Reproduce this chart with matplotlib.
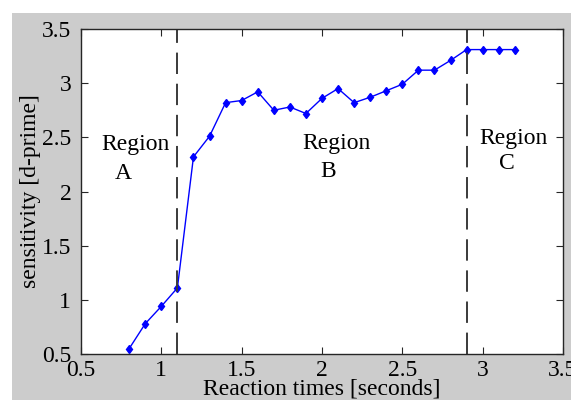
import matplotlib
matplotlib.use("Agg")
import matplotlib.pyplot as plt
from matplotlib.patches import Rectangle

reaction_times = [0.8, 0.9, 1.0, 1.1, 1.2, 1.3, 1.4, 1.5, 1.6, 1.7, 1.8, 1.9, 2.0,
                  2.1, 2.2, 2.3, 2.4, 2.5, 2.6, 2.7, 2.8, 2.9, 3.0, 3.1, 3.2]
sensitivity = [0.55, 0.78, 0.94, 1.11, 2.32, 2.51, 2.82, 2.84, 2.92, 2.75, 2.78, 2.72, 2.86,
               2.95, 2.82, 2.87, 2.93, 2.99, 3.12, 3.12, 3.21, 3.31, 3.31, 3.31, 3.31]
region_bounds = [1.1, 2.9]
x_ticks = [0.5, 1, 1.5, 2, 2.5, 3, 3.5]
x_tick_labels = ["0.5", "1", "1.5", "2", "2.5", "3", "3.5"]
y_ticks = [0.5, 1, 1.5, 2, 2.5, 3, 3.5]
y_tick_labels = ["0.5", "1", "1.5", "2", "2.5", "3", "3.5"]

plt.rcParams['font.family'] = ['Liberation Serif', 'DejaVu Serif']
FS = 17

fig = plt.figure(figsize=(5.71, 4.0), dpi=100)
fig.patch.set_facecolor('white')
fig.patches.append(Rectangle((12/571, 0), 1 - 12/571, 1 - 13/400,
                             transform=fig.transFigure, facecolor='#cccccc',
                             edgecolor='none', zorder=-10))

ax = fig.add_axes([81/571, 46/400, 482/571, 325/400])
ax.set_facecolor('white')

ax.plot(reaction_times, sensitivity, color='#0000ff', linewidth=1.0,
        marker='d', markersize=4.5, markerfacecolor='#0000ff', markeredgecolor='#0000ff')

for xb in region_bounds:
    ax.axvline(xb, color='#3a3a3a', linewidth=1.4, dashes=(11, 5))

ax.text(0.84, 2.43, "Region", fontsize=FS, ha='center', va='center')
ax.text(0.76, 2.17, "A", fontsize=FS, ha='center', va='center')
ax.text(2.09, 2.44, "Region", fontsize=FS, ha='center', va='center')
ax.text(2.04, 2.18, "B", fontsize=FS, ha='center', va='center')
ax.text(3.19, 2.49, "Region", fontsize=FS, ha='center', va='center')
ax.text(3.15, 2.26, "C", fontsize=FS, ha='center', va='center')

ax.set_xlim(0.5, 3.5)
ax.set_ylim(0.5, 3.5)
ax.set_xticks(x_ticks)
ax.set_xticklabels(x_tick_labels)
ax.set_yticks(y_ticks)
ax.set_yticklabels(y_tick_labels)
ax.tick_params(direction='in', top=True, right=True, length=5, width=0.8,
               colors='#262626', labelcolor='black', labelsize=FS)
ax.tick_params(axis='x', pad=4)
ax.tick_params(axis='y', pad=7)
for s in ax.spines.values():
    s.set_color('#262626')
    s.set_linewidth(1.0)

ax.set_xlabel("Reaction times [seconds]", fontsize=FS, labelpad=-1.5)
ax.set_ylabel("sensitivity [d-prime]", fontsize=FS, labelpad=1)

fig.savefig("out.png", dpi=100, facecolor=fig.get_facecolor())
